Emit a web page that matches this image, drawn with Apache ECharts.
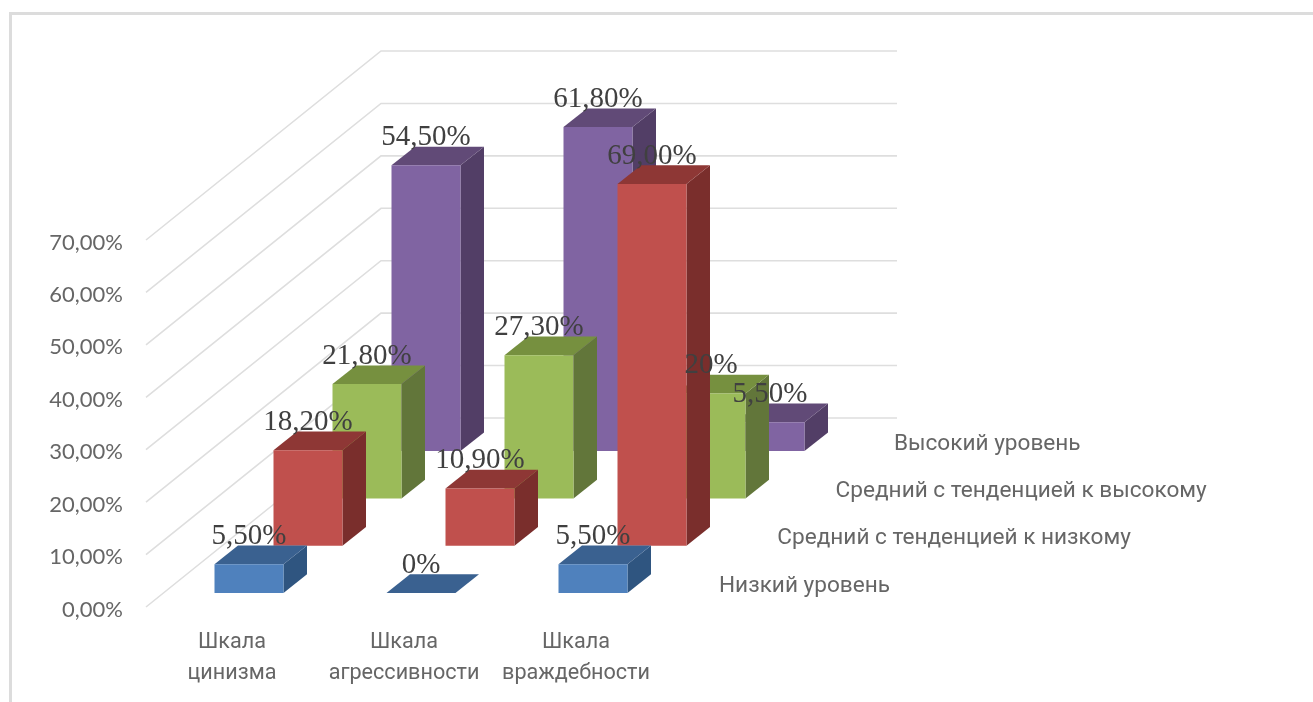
<!DOCTYPE html>
<html>
<head>
<meta charset="utf-8">
<style>
html, body { margin: 0; padding: 0; background: #fff; overflow: hidden; }
#frame { position: absolute; left: 9px; top: 12px; right: 0; bottom: 0; border-left: 3px solid #dcdcdc; border-top: 3px solid #dcdcdc; }
#chart { position: absolute; left: 0; top: 0; width: 1313px; height: 702px; }
</style>
<script src="https://cdn.jsdelivr.net/npm/echarts@6/dist/echarts.min.js"></script>
</head>
<body>
<div id="frame"></div>
<div id="chart"></div>
<script>
var categories = ['Шкала\nцинизма', 'Шкала\nагрессивности', 'Шкала\nвраждебности'];
var seriesNames = ['Низкий уровень', 'Средний с тенденцией к низкому', 'Средний с тенденцией к высокому', 'Высокий уровень'];
var lowValues = [5.5, 0, 5.5];
var midLowValues = [18.2, 10.9, 69];
var midHighValues = [21.8, 27.3, 20];
var highValues = [54.5, 61.8, 5.5];
var lowLabels = ['5,50%', '0%', '5,50%'];
var midLowLabels = ['18,20%', '10,90%', '69,00%'];
var midHighLabels = ['21,80%', '27,30%', '20%'];
var highLabels = ['54,50%', '61,80%', '5,50%'];
var yTicks = [0, 10, 20, 30, 40, 50, 60, 70];

var allValues = [lowValues, midLowValues, midHighValues, highValues];
var allLabels = [lowLabels, midLowLabels, midHighLabels, highLabels];
// front, top, side
var colors = [
    ['#4f81bd', '#3a6190', '#2f5580'],
    ['#c0504d', '#8e3735', '#7a2e2c'],
    ['#9bbb59', '#76903f', '#62763a'],
    ['#8064a2', '#614a77', '#523e66']
];

// fake 3d projection, in pixels
var wallDx = 235, wallDy = -189;
var stepDx = 59, stepDy = -47.3;
var startDx = -17.5, startDy = -14;
var barW = 69, depthDx = 23.5, depthDy = -18.7;

var chart = echarts.init(document.getElementById('chart'));

function renderWall(params, api) {
    var y = api.coord([0, api.value(0)])[1];
    var cs = params.coordSys;
    return {
        type: 'polyline',
        shape: { points: [[cs.x, y], [cs.x + wallDx, y + wallDy], [cs.x + cs.width + wallDx, y + wallDy]] },
        style: { fill: null, stroke: '#dedede', lineWidth: 1.6 }
    };
}

function barRenderer(d) {
    return function (params, api) {
        var top = api.coord([api.value(0), api.value(1)]);
        var base = api.coord([api.value(0), 0]);
        var x0 = top[0] + startDx + d * stepDx;
        var x1 = x0 + barW;
        var yB = base[1] + startDy + d * stepDy;
        var yT = top[1] + startDy + d * stepDy;
        var c = colors[d];
        var children = [{
            type: 'polygon',
            shape: { points: [[x1, yT], [x1 + depthDx, yT + depthDy], [x1 + depthDx, yB + depthDy], [x1, yB]] },
            style: { fill: c[2] }
        }, {
            type: 'polygon',
            shape: { points: [[x0, yT], [x0 + depthDx, yT + depthDy], [x1 + depthDx, yT + depthDy], [x1, yT]] },
            style: { fill: c[1] }
        }, {
            type: 'rect',
            shape: { x: x0, y: yT, width: barW, height: yB - yT },
            style: { fill: c[0] }
        }];
        return { type: 'group', children: children };
    };
}

function labelRenderer(d) {
    return function (params, api) {
        var top = api.coord([api.value(0), api.value(1)]);
        return {
            type: 'text',
            style: {
                x: top[0] + startDx + d * stepDx + barW / 2,
                y: top[1] + startDy + d * stepDy - 28,
                text: allLabels[d][params.dataIndex],
                align: 'center',
                verticalAlign: 'middle',
                fill: '#404040',
                font: '29px "Liberation Serif"'
            }
        };
    };
}

function renderSeriesName(params, api) {
    var d = params.dataIndex;
    var cs = params.coordSys;
    return {
        type: 'text',
        style: {
            x: cs.x + cs.width + 57 + d * 58.3,
            y: cs.y + cs.height - 21 + d * stepDy,
            text: seriesNames[d],
            align: 'left',
            verticalAlign: 'middle',
            fill: '#666666',
            font: '22.6px Roboto'
        }
    };
}

var series = [{
    type: 'custom',
    name: 'walls',
    z: 1,
    silent: true,
    renderItem: renderWall,
    encode: { y: 0 },
    data: yTicks.map(function (v) { return [v]; })
}];

for (var d = 3; d >= 0; d--) {
    var rows = allValues[d].map(function (v, i) { return [i, v]; });
    series.push({
        type: 'custom',
        name: seriesNames[d],
        z: 5 - d + 1,
        clip: false,
        renderItem: barRenderer(d),
        encode: { x: 0, y: 1 },
        data: rows
    });
    series.push({
        type: 'custom',
        name: seriesNames[d] + ' labels',
        z: 20,
        clip: false,
        silent: true,
        renderItem: labelRenderer(d),
        encode: { x: 0, y: 1 },
        data: rows
    });
}

series.push({
    type: 'custom',
    name: 'series names',
    z: 20,
    silent: true,
    clip: false,
    renderItem: renderSeriesName,
    data: seriesNames.map(function (n, i) { return [i]; })
});

var option = {
    animation: false,
    backgroundColor: 'transparent',
    grid: { left: 146, width: 516, top: 240, height: 367 },
    xAxis: {
        type: 'category',
        data: categories,
        axisLine: { show: false },
        axisTick: { show: false },
        splitLine: { show: false },
        axisLabel: {
            color: '#666666',
            fontFamily: 'Roboto',
            fontSize: 21.6,
            lineHeight: 31,
            margin: 20,
            interval: 0
        }
    },
    yAxis: {
        type: 'value',
        min: 0,
        max: 70,
        interval: 10,
        axisLine: { show: false },
        axisTick: { show: false },
        splitLine: { show: false },
        axisLabel: {
            margin: 23,
            formatter: function (v) { return '{t|' + v.toFixed(2).replace('.', ',') + '%}'; },
            rich: {
                t: { color: '#666666', fontFamily: 'Lato', fontSize: 22, padding: [5, 0, 0, 0] }
            }
        }
    },
    series: series
};

chart.setOption(option);
</script>
</body>
</html>
